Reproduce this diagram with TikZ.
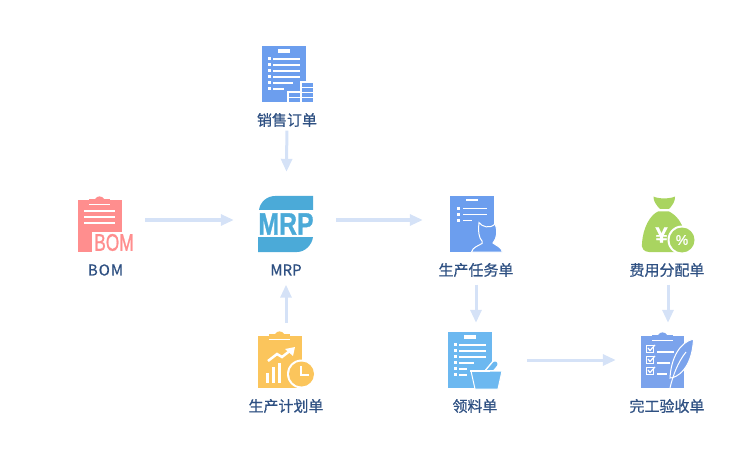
\documentclass[tikz,border=0pt]{standalone}
\usepackage{fontspec}
\setmainfont[FakeBold=0.7]{Noto Sans CJK SC}
\newfontfamily\iconfont[FakeBold=1.2]{Liberation Sans}
\usetikzlibrary{arrows.meta}
\definecolor{labelblue}{HTML}{2E5082}
\definecolor{flowblue}{HTML}{D5E2F7}
\definecolor{salesblue}{HTML}{6C9EEE}
\definecolor{bompink}{HTML}{FF8E8E}
\definecolor{mrpblue}{HTML}{4BAAD8}
\definecolor{feegreen}{HTML}{A9D460}
\definecolor{planyellow}{HTML}{FBC55C}
\definecolor{pickblue}{HTML}{6CB8F0}
\definecolor{doneblue}{HTML}{7BA3EC}
\tikzset{
	label/.style={text=labelblue, font=\fontsize{15}{16}\selectfont, inner sep=0pt, minimum height=15pt},
	icon/.style={minimum width=56pt, minimum height=56pt, inner sep=0pt},
	flow/.style={draw=flowblue, line width=3pt, -{Triangle[length=13pt,width=11pt]}},
	paper/.style={draw=none, fill=white}
}
\def\cliptab(#1,#2)#3{\fill[#3] (#1, #2+3) rectangle (#1+21, #2+8);
	\fill[#3] (#1+6, #2+3) .. controls (#1+8, #2-0.5) and (#1+13, #2-0.5) .. (#1+15, #2+3);
	\fill[white] (#1, #2+8) rectangle (#1+21, #2+9);}

\begin{document}
\begin{tikzpicture}[x=1pt, y=-1pt]
			\useasboundingbox (0, 0) rectangle (752, 449);
			%%%%% START %%%%%
			
			\node[icon] (sales) at (287, 74) {};
			\node[icon] (bom) at (106, 220) {};
			\node[icon] (mrp) at (286, 220) {};
			\node[icon] (task) at (476, 220) {};
			\node[icon] (fee) at (668, 220) {};
			\node[icon] (plan) at (286, 360) {};
			\node[icon] (pick) at (476, 360) {};
			\node[icon] (done) at (668, 360) {};
			
			\node[label] (saleslabel) at (287, 120) {销售订单};
			\node[label] (bomlabel) at (105.5, 270) {\addfontfeatures{LetterSpace=7}BOM};
			\node[label] (mrplabel) at (286, 270) {MRP};
			\node[label] (tasklabel) at (476, 270) {生产任务单};
			\node[label] (feelabel) at (667, 270) {费用分配单};
			\node[label] (planlabel) at (286, 406) {生产计划单};
			\node[label] (picklabel) at (475, 406) {领料单};
			\node[label] (donelabel) at (667, 406) {完工验收单};
			
			\draw[flow, shorten <=3pt, shorten >=20pt] (saleslabel) -- (mrp);
			\draw[flow, shorten <=11pt, shorten >=24pt] (bom) -- (mrp);
			\draw[flow, shorten <=22pt, shorten >=25pt] (mrp) -- (task);
			\draw[flow, shorten <=9pt, shorten >=7pt] (plan) -- (mrplabel);
			\draw[flow, shorten <=7pt, shorten >=9pt] (tasklabel) -- (pick);
			\draw[flow, shorten <=7pt, shorten >=9pt] (feelabel.south -| fee) -- (done);
			\draw[flow, shorten <=23pt, shorten >=24pt] (pick) -- (done);
			
			% sales order
			\fill[salesblue] (262, 46) rectangle (306, 102);
			\fill[white] (278, 49) rectangle (290, 53);
			\foreach \y/\e in {58/300, 64/300, 70.5/300, 76.5/300, 82.5/293, 88.5/284}{
				\fill[white] (268, \y-1) rectangle (271, \y+2);
				\fill[white] (273, \y) rectangle (\e, \y+1.7);
			}
			\fill[white] (287, 91) rectangle (301, 102);
			\fill[white] (300, 81) rectangle (314, 102);
			\foreach \y in {83, 88, 93, 98}
				\fill[salesblue] (302, \y) rectangle (313, \y+4);
			\foreach \y in {93, 98}
				\fill[salesblue] (289, \y) rectangle (300, \y+4);
			
			% bom
			\fill[bompink] (78, 200) rectangle (122, 252);
			\cliptab(89,196){bompink}
			\fill[white] (84, 210) rectangle (115, 212);
			\fill[white] (84, 216) rectangle (115, 218);
			\fill[white] (84, 222) rectangle (115, 224);
			\fill[white] (92, 232) rectangle (134, 252);
			\node[inner sep=0pt, text=bompink, xscale=0.72, transform shape] (bomword) at (114, 242.5) {\iconfont\fontsize{24}{24}\selectfont BOM};
			
			% mrp
			\fill[mrpblue] (259, 210) .. controls (260, 202) and (267, 196) .. (275, 196) -- (313, 196) -- (313, 210) -- cycle;
			\fill[mrpblue] (258, 237) -- (313, 237) .. controls (312, 245) and (305, 252) .. (297, 252) -- (258, 252) -- cycle;
			\node[inner sep=0pt, text=mrpblue, xscale=0.8, transform shape] (mrpword) at (286, 224) {\iconfont\bfseries\fontsize{31}{31}\selectfont MRP};
			
			% production task
			\fill[salesblue] (450, 196) rectangle (494, 252);
			\fill[white] (466, 199) rectangle (478, 201);
			\foreach \y/\e in {207/487, 213/487, 219/472}{
				\fill[white] (457, \y) rectangle (460, \y+3);
				\fill[white] (463, \y+1) rectangle (\e, \y+2.5);
			}
			\filldraw[draw=white, fill=salesblue, line width=1pt] (471.5, 252) .. controls (473, 247) and (478, 246) .. (482, 243.5) -- (482, 241) .. controls (479, 238) and (478, 232) .. (479, 222.5) .. controls (482, 227) and (490, 229) .. (495, 224) .. controls (498, 231) and (497, 238) .. (493, 243) .. controls (497, 246) and (501, 247) .. (502.5, 252) -- cycle;
			
			% cost allocation
			\fill[feegreen] (653.5, 196.5) .. controls (658, 199) and (670, 199) .. (675, 196.5) .. controls (675.5, 201) and (672, 206) .. (669, 209) -- (660, 209) .. controls (657, 206) and (653, 201) .. (653.5, 196.5) -- cycle;
			\fill[feegreen] (658, 211.5) -- (669, 211.5) .. controls (676, 215) and (682, 222) .. (684, 232) -- (684, 252) -- (649, 252) .. controls (644, 252) and (641, 248) .. (642, 243) .. controls (643, 228) and (650, 215) .. (658, 211.5) -- cycle;
			\fill[white] (682, 240) circle (14.5pt);
			\fill[white] (684, 246) rectangle (700, 254);
			\fill[feegreen] (682, 240) circle (12.5pt);
			\node[inner sep=0pt, text=white, font=\iconfont\bfseries\fontsize{22}{22}\selectfont] (yuan) at (661.5, 235) {¥};
			\node[inner sep=0pt, text=white, font=\iconfont\fontsize{14}{14}\selectfont] (percent) at (682, 240) {\%};
			
			% production plan
			\fill[planyellow] (258, 336) rectangle (302, 388);
			\cliptab(269,331){planyellow}
			\fill[white] (266, 373) rectangle (269, 383);
			\fill[white] (272, 367) rectangle (275, 383);
			\fill[white] (278, 363) rectangle (281, 383);
			\draw[white, line width=2.5pt] (268, 361) -- (277, 354) -- (282, 357) -- (291, 350);
			\fill[white] (285, 349) -- (295, 347) -- (293, 356) -- cycle;
			\fill[white] (301.5, 374) circle (14.5pt);
			\fill[planyellow] (301.5, 374) circle (12.5pt);
			\draw[white, line width=1.5pt] (301, 366) -- (301, 375) -- (309, 375);
			
			% material picking
			\fill[pickblue] (448, 332) rectangle (492, 388);
			\fill[white] (464, 335) rectangle (476, 339);
			\foreach \y/\e in {343/486, 349/486, 355/486, 361/474, 367/467, 373/467}{
				\fill[white] (454, \y) rectangle (457, \y+3);
				\fill[white] (459, \y+1) rectangle (\e, \y+2.5);
			}
			\draw[white, line width=8pt, line cap=round] (487.5, 373) -- (495, 364);
			\draw[pickblue, line width=5pt, line cap=round] (487.5, 373) -- (495, 364);
			\fill[white] (470, 370) rectangle (503, 372);
			\filldraw[draw=white, fill=pickblue, line width=1pt] (471, 371) -- (502, 371) -- (498, 389) -- (475, 389) -- cycle;
			\fill[white] (471, 370.5) -- (490, 370.5) -- (490, 371.5) -- (471, 371.5) -- cycle;
			
			% acceptance
			\fill[doneblue] (641, 336) rectangle (684, 388);
			\cliptab(652,332){doneblue}
			\foreach \y/\e in {345/674, 356/670, 367/667}{
				\draw[white, line width=1pt] (646.5, \y+0.5) rectangle (653.5, \y+7);
				\draw[white, line width=1.2pt] (648, \y+3) -- (650, \y+5.5) -- (655, \y);
				\fill[white] (657, \y+6) rectangle (\e, \y+7.5);
			}
			\filldraw[draw=white, fill=doneblue, line width=1pt] (693.5, 339) .. controls (680, 342) and (671, 358) .. (670, 378) .. controls (676, 378) and (692, 370) .. (693.5, 339) -- cycle;
			\draw[white, line width=1pt] (670, 388) .. controls (673, 375) and (678, 362) .. (686, 352);
			
			%%%%% END %%%%%
		\end{tikzpicture}
\end{document}
